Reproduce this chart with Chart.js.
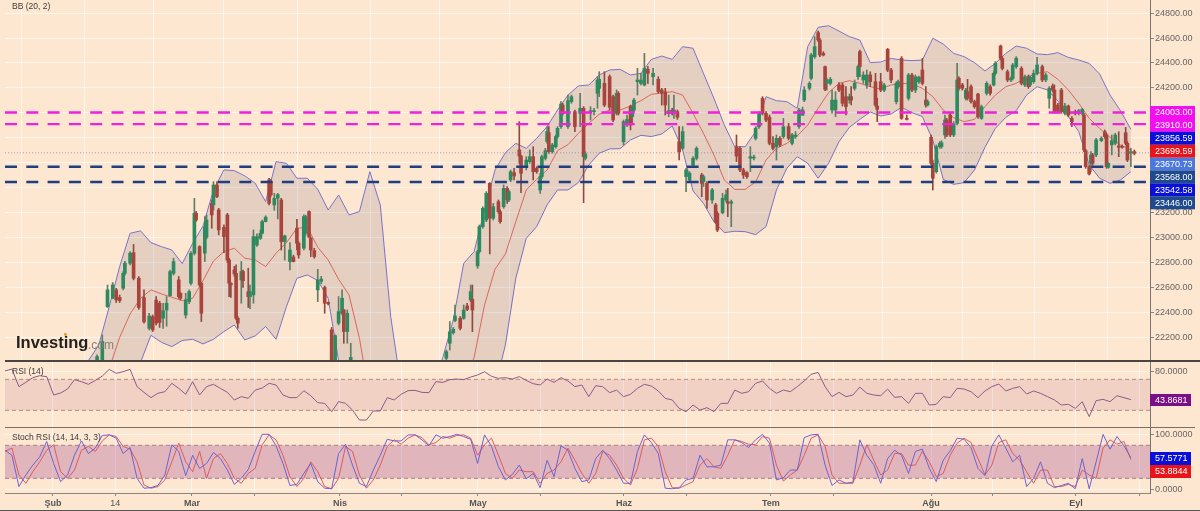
<!DOCTYPE html>
<html><head><meta charset="utf-8">
<script src="https://cdn.jsdelivr.net/npm/chart.js@4/dist/chart.umd.min.js"></script>
<style>
html,body{margin:0;padding:0;background:#FDE7D0;width:1200px;height:511px;overflow:hidden}
canvas{position:absolute;left:0;display:block}
.sep{position:absolute}
</style></head><body>
<canvas id="main" width="1200" height="360" style="top:0px"></canvas>
<canvas id="rsi" width="1200" height="66" style="top:361px"></canvas>
<canvas id="stoch" width="1200" height="83" style="top:428px"></canvas>
<div class="sep" style="left:5px;width:1195px;top:360px;height:1.5px;background:#4a4542"></div>
<div class="sep" style="left:5px;width:1190px;top:427px;height:1px;background:#7a706a"></div>
<div class="sep" style="left:5px;width:1145px;top:493px;height:1px;background:#8d8580"></div>
<div class="sep" style="left:0;width:1200px;top:510px;height:1px;background:#555"></div>
<script>
// x is the session number on the chart's time axis (about two sessions per day)
const monthTicks = [[13.8,'Şub'],[31.7,'14'],[53.8,'Mar'],[71.9,''],[96.4,'Nis'],[114,''],[136.1,'May'],[154.2,''],[178.1,'Haz'],[196,''],[220.4,'Tem'],[238.3,''],[266.5,'Ağu'],[284.3,''],[308.2,'Eyl'],[326.6,'']];
const priceTicks = [24800,24600,24400,24200,24000,23800,23600,23400,23200,23000,22800,22600,22400,22200];
const rsiTicks = [80];
const stochTicks = [100,0];
const magentaLevels = [24003,23910];
const navyLevels = [23568,23446];
const lastPriceLine = 23680;
const rsiLevels = [70,30];
const stochLevels = [80,20];
const tagTexts = ['24003.00','23910.00','23856.59','23699.59','23670.73','23568.00','23542.58','23446.00'];
const tagColors = ['#F20FF0','#F20FF0','#0A10D8','#E8141C','#4D78DC','#1F4A8C','#0A10D8','#1F4A8C'];
const rsiTagText = '43.8681';
const stochTagTexts = ['57.5771','53.8844'];

const sessions = [26.5,28,29.5,31,32,33,34,34.5,36,37,38.5,40,41.5,42.5,43.5,44.5,45.5,46.5,47.5,48.5,50,50.5,52,53,53.5,54.5,55,56,56.5,57.5,58,59.5,60,61,61.5,63,64,64.5,65,66,66.5,67,68,68.5,70,70.5,71.5,72.5,73.5,74,75,76,76.5,77.5,78.5,79.5,80.5,82,83,84,84.5,86,86.5,87.5,88,89,90,91,92,93,94,95,96,97,97.5,98.5,99.5,
127,128,129,129.5,131,132,133,134,134.5,
136,136.5,137.5,138.5,139.5,140.5,142,142.5,143.5,144.5,145,145.5,146.5,148,148.5,150,151,152,153,154,154.5,155.5,156,156.5,157.5,158.5,159,160,160.5,162,163,164,165.5,166.5,167,168.5,169.5,170.5,171,172.5,174,175,176,176.5,178,179,180,180.5,181,182,183,184,185,186.5,188,189,190,191,192,192.5,193.5,194,195,196,197,198,199,200.5,201,202,203.5,204.5,205,206.5,207.5,208,209,210.5,211.5,212.5,213.5,214.5,215.5,216,217,218,219,220,221,222,223,224,225.5,226.5,227.5,228.5,
229.5,230,231.5,232,233,234,234.5,235.5,236,236.5,237.5,238,239,240,241,242,243,243.5,244.5,245.5,246,247,248,249,250.5,251,252,253,254,255,256.5,257,258,259.5,260,261,262,263,264,265,265.5,266.5,267,268,269,269.5,270.5,271,272,273,274,274.5,275.5,276.5,277,278,279,280,281,282.5,283.5,284.5,285,286.5,287,288.5,289.5,290,291,292.5,293.5,294.5,295,296,297,298.5,299.5,300.5,301.5,302,303,304,305,306,307,308,309,310,310.5,311,312,312.5,313,314,315.5,316.5,317,317.5,318.5,319.5,320.5,321.5,322.5,323,324,325];
const opens = [22020,22020,22447,22514,22581,22520,22594,22714,22795,22880,22674,22520,22273,22367,22500,22474,22354,22420,22535,22714,22661,22554,22380,22487,22634,22875,23195,22928,22634,22875,23003,23275,23262,23422,23222,23082,23182,22821,22634,22741,22714,22354,22661,22728,22567,22527,22541,22941,22995,23035,23129,23463,23449,23262,23316,23302,22968,22808,22845,23075,22955,22915,23035,23209,22995,22896,22581,22650,22600,22480,22260,22000,22314,22394,22420,22247,22020,
22033,22153,22238,22335,22353,22353,22452,22500,22506,
22773,22888,23088,23141,23435,23155,23288,23208,23248,23395,23302,23462,23521,23703,23654,23569,23609,23649,23556,23382,23489,23636,23769,23842,23689,23729,23810,23890,24063,23890,24090,24010,23996,24037,23636,24010,24010,24157,24197,24237,24290,24130,23996,24157,23769,23903,24050,23970,24023,24250,24237,24224,24349,24290,24269,24184,24170,23996,24023,23996,24010,23769,23716,23489,23462,23582,23636,23502,23449,23435,23302,23262,23195,23200,23302,23288,23275,23729,23716,23542,23521,23636,23638,23796,23890,24117,23996,23965,23756,23729,23796,23810,23890,23756,23810,23890,
23980,24103,24197,24277,24451,24643,24584,24477,24371,24237,24237,24023,24023,24224,24224,24130,24103,24130,24197,24290,24491,24264,24224,24304,24250,24055,24250,24183,24509,24344,24090,24210,24437,23956,24117,24304,24183,24250,24344,24103,24063,23804,23596,23529,23729,23729,23823,23943,23983,23823,23916,24277,24224,24117,24170,24210,24090,24151,23956,24157,24210,24224,24317,24536,24437,24330,24264,24277,24371,24357,24224,24290,24224,24250,24317,24371,24264,24117,24216,24183,24063,24183,23997,24055,23956,24010,23997,23997,23983,23697,23569,23596,23663,23663,23777,23849,23823,23564,23743,23756,23735,23729,23841,23756,23676,23689];
const highs = [22060,22220,22620,22640,22594,22540,22728,22810,22888,22945,22688,22581,22394,22380,22527,22490,22474,22527,22740,22835,22688,22560,22554,22581,22888,23315,23210,22935,22640,23169,23182,23302,23449,23449,23235,23102,23195,22835,22640,22770,22781,22367,22808,22740,22755,22620,23062,23030,23062,23140,23175,23476,23465,23355,23355,23315,23020,22960,22860,23147,22968,23182,23180,23215,23003,22915,22746,22690,22612,22484,22280,22220,22527,22581,22425,22420,22153,
22099,22327,22280,22460,22367,22460,22473,22620,22620,
22901,23101,23248,23369,23441,23275,23302,23222,23422,23409,23382,23542,23556,23930,23662,23649,23703,23729,23569,23516,23662,23716,23890,23890,23756,23823,23890,24090,24077,24143,24143,24023,24157,24050,23689,24050,24037,24290,24330,24330,24304,24143,24184,24170,23943,23983,24063,24050,24117,24357,24317,24477,24371,24357,24290,24197,24197,24143,24037,24143,24023,23890,23890,23556,23529,23649,23729,23516,23502,23449,23395,23275,23208,23355,23382,23395,23302,23823,23729,23556,23529,23729,23662,23890,24010,24130,24010,23983,23810,23823,23810,23956,23916,23836,23850,24037,
24047,24210,24250,24477,24611,24656,24598,24491,24376,24277,24285,24183,24170,24242,24237,24210,24151,24210,24264,24384,24504,24330,24344,24330,24317,24117,24317,24237,24517,24357,24250,24264,24451,23983,24317,24317,24304,24296,24437,24210,24103,23823,23622,23743,23770,23777,23983,23956,23997,23930,24397,24290,24237,24197,24269,24224,24103,24157,24063,24250,24224,24330,24411,24544,24451,24344,24290,24397,24451,24371,24304,24304,24296,24344,24445,24384,24317,24210,24232,24224,24077,24197,24077,24063,23970,24023,24028,24037,23997,23708,23582,23689,23676,23796,23809,23863,23836,23601,23823,23836,23849,23743,23884,23770,23716,23702];
const lows = [22000,22010,22440,22510,22480,22480,22580,22700,22781,22661,22425,22314,22260,22247,22300,22280,22273,22290,22530,22700,22514,22500,22354,22470,22621,22861,23130,22610,22327,22808,22990,23075,23222,23320,23022,22880,22800,22527,22520,22690,22340,22273,22474,22600,22440,22430,22474,22930,22985,23030,23125,23262,23330,23220,23150,22900,22820,22741,22805,22901,22835,22901,23020,23003,22848,22835,22487,22630,22394,22460,21950,21990,22300,22380,22153,22153,21950,
22019,22099,22225,22327,22260,22345,22415,22487,22246,
22754,22874,23075,23128,22869,23141,23195,23115,23235,23275,23288,23449,23462,23596,23361,23542,23596,23462,23516,23355,23475,23622,23756,23676,23676,23716,23796,23876,23983,23876,24077,23850,23890,23280,23622,23943,23983,24037,24130,24050,24023,23930,23983,23983,23743,23890,23863,23916,24010,24143,24224,24216,24237,24224,24157,24063,23983,23970,23983,23956,23948,23622,23703,23369,23449,23569,23622,23328,23409,23235,23275,23115,23048,23190,23288,23168,23088,23609,23529,23475,23475,23529,23622,23783,23876,23983,23930,23743,23703,23622,23729,23796,23783,23743,23796,23876,
23997,24090,24183,24264,24437,24571,24451,24456,24178,24183,24224,23997,23970,24170,24055,23983,24077,24063,24183,24269,24290,24237,24197,24210,24050,23930,24170,24170,24330,24242,24071,24197,23948,23943,24103,24170,24162,24237,24224,24045,24055,23582,23382,23516,23716,23716,23796,23809,23809,23809,23903,24183,24183,24103,24103,24077,24037,23956,23948,24143,24143,24216,24304,24424,24344,24250,24250,24264,24357,24224,24210,24197,24210,24237,24304,24250,24250,24037,24170,23997,23997,23997,23983,23970,23890,23983,23983,23983,23689,23556,23502,23529,23582,23649,23770,23796,23556,23556,23663,23743,23649,23716,23743,23609,23569,23663];
const closes = [22046,22167,22581,22621,22501,22495,22714,22795,22875,22674,22440,22325,22372,22260,22314,22320,22415,22474,22728,22808,22527,22514,22501,22567,22875,23195,23142,22621,22394,23088,23142,23182,23422,23329,23062,23008,22821,22634,22621,22710,22354,22314,22728,22655,22527,22567,23008,23008,23035,23129,23164,23275,23342,23315,23345,22968,23014,22901,22808,22955,22861,23169,23169,23003,22901,22848,22661,22667,22474,22470,22000,22215,22407,22514,22247,22394,22040,
22086,22246,22265,22372,22273,22420,22425,22567,22420,
22888,23088,23235,23355,23155,23248,23208,23128,23395,23302,23369,23529,23494,23654,23516,23622,23649,23529,23529,23489,23649,23697,23850,23689,23743,23810,23876,24071,23996,24098,24130,23890,24037,23649,23671,24018,24018,24264,24269,24063,24045,23943,24157,23996,23930,23948,23903,24037,24103,24264,24264,24357,24317,24317,24170,24157,24063,24018,23996,24023,23965,23689,23850,23542,23516,23636,23716,23435,23489,23302,23382,23128,23061,23315,23342,23275,23288,23654,23542,23502,23489,23649,23644,23876,23996,23996,23943,23756,23716,23796,23743,23890,23796,23823,23823,24023,
24025,24183,24237,24464,24531,24584,24464,24464,24189,24264,24269,24103,24103,24183,24077,24050,24130,24103,24237,24371,24371,24304,24304,24250,24063,24028,24183,24224,24344,24264,24237,24250,23956,23948,24304,24183,24290,24285,24237,24063,24090,23596,23476,23729,23756,23761,23943,23823,23823,23911,24264,24197,24197,24183,24117,24090,24050,23970,24050,24237,24157,24317,24397,24437,24357,24264,24277,24384,24437,24237,24290,24210,24285,24317,24384,24264,24304,24197,24183,24010,24010,24010,24055,23983,23930,23997,24018,24028,23703,23569,23510,23663,23596,23783,23796,23809,23569,23596,23777,23823,23724,23724,23756,23622,23689,23676];

// Bollinger bands, read every third session from session 24
const bbUpper = [22014,22140,22447,22768,23035,23054,22960,22928,22901,22792,22955,23094,23382,23543,23537,23495,23436,23289,23609,23596,23476,23476,23388,23222,23342,23182,23209,23529,23262,22367,21800,21650,21700,21800,22040,22340,22794,22888,23222,23542,23681,23756,23716,23796,23890,24023,24143,24216,24224,24304,24344,24349,24304,24317,24429,24456,24429,24531,24518,24317,24117,23903,23729,23729,23850,24130,24098,24090,24037,24531,24686,24699,24656,24611,24584,24403,24408,24437,24424,24419,24424,24598,24552,24477,24451,24403,24336,24397,24477,24536,24518,24472,24467,24483,24445,24424,24397,24312,24143,24018,23868];
const bbMiddle = [21200,21500,21950,22201,22388,22514,22581,22549,22522,22495,22514,22656,22813,22888,22915,22835,22821,22768,22875,22960,23075,23083,22923,22821,22666,22541,22193,21700,21300,21000,20900,20850,20900,21000,21200,21500,21800,22040,22460,22746,22869,23128,23382,23467,23542,23697,23745,23836,23916,23989,24023,24023,24055,24098,24149,24159,24170,24143,23996,23836,23663,23462,23387,23387,23446,23622,23716,23756,23815,23903,24037,24162,24237,24258,24237,24210,24192,24224,24237,24232,24197,24130,24023,23962,23930,23948,24050,24143,24210,24237,24285,24317,24330,24269,24184,24077,23956,23876,23804,23743,23703];
const bbLower = [21300,21350,21400,21500,21700,22000,22217,22161,22126,22175,22185,22148,22185,22247,22300,22180,22212,22287,22185,22447,22674,22701,22656,22514,22014,21800,21600,21400,21200,21000,20900,20800,20700,20650,20700,20800,20900,21000,21200,21800,22140,22674,22994,23088,23262,23382,23382,23441,23582,23676,23711,23713,23783,23820,23810,23831,23895,23703,23374,23275,23128,23040,23051,23048,23024,23088,23382,23556,23649,23596,23476,23596,23769,23884,23948,24007,23975,23991,24045,24002,23970,23783,23467,23427,23441,23542,23724,23876,23964,24018,24143,24210,24184,24095,23970,23850,23582,23476,23435,23462,23529];

// oscillators, read every second session from session 0
const rsiValues = [80.8,83.3,60.6,66.1,72.2,74.7,73.5,49.8,52.4,57.5,69.6,67,63.6,68.7,74.3,82.9,77.8,79.9,82.9,60.6,53.2,46.4,52,54.1,64.9,58.4,50.7,67,49.8,60.6,63.6,58.4,53.2,43.4,47.7,45.5,56.2,58.8,64.9,62.7,49.8,46.4,46.4,55.4,48.9,39.9,39,28.3,41.2,39,30.4,17.5,17.5,29.2,29.2,46.4,43.4,
50.7,55.4,55.8,53.2,52.8,67,66.1,69.6,70.4,69.6,73,75.6,79.9,73.9,71.3,72.2,70.4,73.5,68.7,64.4,62.7,70.4,66.1,72.2,67.9,60.6,62.7,47.7,61.8,60.6,52.8,56.2,47.7,50.7,58.4,63.6,61.4,55,45.5,43.4,32.6,28.3,36.9,30.4,33.5,28.3,39,39,56.2,52,54.1,64.9,67.9,58.4,52,56.2,54.1,60.6,
67.9,76.5,79,60.6,47.7,53.2,47.7,49.8,60.1,52,49.8,48.9,57.5,46.8,47.7,39,52,52,36.9,37.8,47.7,46.4,58.4,57.5,54.1,46.4,55,60.6,64,55,58.4,60.6,51.1,55,52,47.7,43.4,36.9,37.8,32.6,41.2,21.9,42.5,44.2,41.2,48.9,46.4,43.87];
const stochK = [71,62,5,26,44,59,87,47,14,26,62,88,65,75,98,99,93,65,76,20,2,3,7,26,81,69,25,62,38,47,67,56,35,9,20,36,69,100,100,79,47,7,9,29,47,14,2,1,65,82,44,11,5,35,62,91,88,
88,99,99,90,79,99,93,96,100,96,91,47,99,78,41,17,27,44,19,29,3,53,23,79,71,38,14,17,56,71,56,35,11,11,69,99,85,65,2,1,3,17,20,62,41,41,44,90,90,85,76,90,100,84,17,21,35,35,
94,99,100,44,7,17,11,13,90,62,45,11,56,71,62,29,69,73,38,14,53,70,93,91,76,38,25,79,99,75,50,62,5,20,50,11,3,7,11,1,56,1,50,100,73,96,79,57.6];
const stochD = [69,75,26,11,32,50,71,81,32,20,35,71,78,69,88,99,96,78,73,50,8,2,5,17,50,84,50,32,69,20,56,65,47,20,11,29,38,81,99,90,62,23,5,20,50,32,5,1,20,78,69,26,2,17,44,78,90,
82,93,99,94,81,85,96,93,98,99,93,62,81,93,62,29,20,35,32,32,11,29,35,50,75,53,29,11,29,69,62,44,20,8,38,90,93,78,32,3,2,8,14,44,56,41,38,62,90,87,82,81,96,93,44,15,26,35,
62,93,99,78,26,11,11,11,44,81,53,26,35,65,65,44,44,69,50,23,29,62,84,93,85,56,26,44,85,90,65,53,32,11,35,35,5,5,9,5,35,26,20,75,90,82,87,53.9];

const BG_GRID='rgba(255,255,255,.62)', AXIS='#777', TICK_TEXT='#666';
const FONT='"Liberation Sans", Arial, sans-serif';
const X_MIN=0, X_MAX=329.5;
const pts=(vals,start,step)=>vals.map((v,i)=>({x:start+i*step,y:v}));
const hLine=v=>[{x:X_MIN,y:v},{x:X_MAX,y:v}];

function xScale(showLabels){
  return {type:'linear',min:X_MIN,max:X_MAX,offset:false,
    afterBuildTicks:s=>{s.ticks=monthTicks.map(t=>({value:t[0]}));},
    afterFit:s=>{s.height=showLabels?18:0;s.paddingLeft=0;s.paddingRight=0;},
    border:{display:false},
    grid:{color:BG_GRID,lineWidth:1,drawTicks:showLabels,tickLength:3,tickColor:'#888'},
    ticks:{display:showLabels,autoSkip:false,maxRotation:0,minRotation:0,padding:2,color:'#555',
      callback:v=>{const t=monthTicks.find(m=>m[0]===v);return t?t[1]:'';},
      font:c=>({family:FONT,size:9,weight:(c.tick&&c.tick.label==='14')?'normal':'bold'})}};
}
function yScale(min,max,ticks,dec){
  return {type:'linear',position:'right',min,max,
    afterBuildTicks:s=>{s.ticks=ticks.map(v=>({value:v}));},
    afterFit:s=>{s.width=50;s.paddingTop=0;s.paddingBottom=0;},
    border:{display:true,color:AXIS,width:1},
    grid:{color:BG_GRID,lineWidth:1,tickLength:4,tickColor:'#888'},
    ticks:{padding:1,color:TICK_TEXT,font:{family:FONT,size:9},callback:v=>Number(v).toFixed(dec)}};
}
function drawTag(ctx,text,color,top,h,right){
  ctx.fillStyle=color;ctx.fillRect(1150,top,right-1150,h);
  ctx.fillStyle='#fff';ctx.font='9px '+FONT;ctx.textAlign='left';ctx.textBaseline='middle';
  ctx.fillText(text,1155,top+h/2+.5);
}
function title(ctx,text,x,y){
  ctx.fillStyle='#3c3c3c';ctx.font='8.5px '+FONT;ctx.textAlign='left';ctx.textBaseline='middle';ctx.fillText(text,x,y);
}
const mainDecor={id:'mainDecor',afterDraw(c){
  const ctx=c.ctx;ctx.save();
  title(ctx,'BB (20, 2)',12,6.5);
  tagTexts.forEach((t,i)=>drawTag(ctx,t,tagColors[i],106+i*12.9,13,1195));
  ctx.textBaseline='alphabetic';ctx.textAlign='left';
  ctx.fillStyle='#24201e';ctx.font='bold 16.5px '+FONT;ctx.fillText('Investing',16,348);
  ctx.fillStyle='#8a8078';ctx.font='12px '+FONT;ctx.fillText('.com',88,349);
  ctx.fillStyle='#E8961E';ctx.beginPath();ctx.arc(65.5,334.5,1.4,0,7);ctx.fill();
  ctx.restore();}};
const rsiDecor={id:'rsiDecor',afterDraw(c){
  const ctx=c.ctx;ctx.save();
  title(ctx,'RSI (14)',12,11);
  drawTag(ctx,rsiTagText,'#7A0F86',33,12,1191);
  ctx.restore();}};
const stochDecor={id:'stochDecor',afterDraw(c){
  const ctx=c.ctx;ctx.save();
  title(ctx,'Stoch RSI (14, 14, 3, 3)',12,9.5);
  drawTag(ctx,stochTagTexts[0],'#0A10D8',24,13,1191);
  drawTag(ctx,stochTagTexts[1],'#E8141C',37,13,1191);
  ctx.restore();}};

const UP='#2E8A5E', DOWN='#A8443C', UPW='#5F7D62', DOWNW='#8F4A40';
const isUp=i=>closes[i]>=opens[i];
const ctxOpts=(extra)=>Object.assign({responsive:false,animation:false,devicePixelRatio:1,
  layout:{padding:{left:5,right:0,top:0,bottom:0},autoPadding:false},plugins:{legend:{display:false},tooltip:{enabled:false}},
  elements:{point:{radius:0},line:{tension:0}}},extra);

const bbEdge='#7A72C8';
new Chart(document.getElementById('main'),{type:'bar',plugins:[mainDecor],
 data:{datasets:[
  {type:'line',label:'BB upper',data:pts(bbUpper,24,3),borderColor:bbEdge,borderWidth:1,fill:{target:1},backgroundColor:'rgba(120,100,130,.18)',order:6},
  {type:'line',label:'BB lower',data:pts(bbLower,24,3),borderColor:bbEdge,borderWidth:1,fill:false,order:6},
  {type:'line',label:'BB middle',data:pts(bbMiddle,24,3),borderColor:'#D8665E',borderWidth:1,fill:false,order:5},
  {type:'bar',label:'wicks',grouped:false,barThickness:1,data:sessions.map((s,i)=>({x:s,y:[lows[i],highs[i]]})),backgroundColor:sessions.map((s,i)=>isUp(i)?UPW:DOWNW),order:4},
  {type:'bar',label:'bodies',grouped:false,barThickness:3,minBarLength:1,data:sessions.map((s,i)=>({x:s,y:[Math.min(opens[i],closes[i]),Math.max(opens[i],closes[i])]})),backgroundColor:sessions.map((s,i)=>isUp(i)?UP:DOWN),order:3},
  {type:'line',label:'last',data:hLine(lastPriceLine),borderColor:'rgba(120,110,180,.65)',borderWidth:1,borderDash:[1,2],order:2},
  ...magentaLevels.map(v=>({type:'line',data:hLine(v),borderColor:'#EE22DC',borderWidth:2.4,borderDash:[12,9.3],order:1})),
  ...navyLevels.map(v=>({type:'line',data:hLine(v),borderColor:'#1F3F80',borderWidth:2.4,borderDash:[12,9.3],order:1}))
 ]},
 options:ctxOpts({scales:{x:xScale(false),y:yScale(22019,24905,priceTicks,2)}})});

new Chart(document.getElementById('rsi'),{type:'line',plugins:[rsiDecor],
 data:{datasets:[
  {data:hLine(rsiLevels[0]),borderColor:'#B08C86',borderWidth:1,borderDash:[4,3],fill:{target:1},backgroundColor:'rgba(205,130,160,.22)',order:3},
  {data:hLine(rsiLevels[1]),borderColor:'#B08C86',borderWidth:1,borderDash:[4,3],fill:false,order:3},
  {data:pts(rsiValues,0,2),borderColor:'#8C5A88',borderWidth:1,fill:false,order:1}
 ]},
 options:ctxOpts({scales:{x:xScale(false),y:yScale(8.5,93.7,rsiTicks,4)}})});

new Chart(document.getElementById('stoch'),{type:'line',plugins:[stochDecor],
 data:{datasets:[
  {data:hLine(stochLevels[0]),borderColor:'#A8808A',borderWidth:1,borderDash:[4,3],fill:{target:1},backgroundColor:'rgba(170,90,150,.35)',order:3},
  {data:hLine(stochLevels[1]),borderColor:'#A8808A',borderWidth:1,borderDash:[4,3],fill:false,order:3},
  {data:pts(stochD,0,2),borderColor:'#DB5A62',borderWidth:1,fill:false,order:2},
  {data:pts(stochK,0,2),borderColor:'#6C62D2',borderWidth:1,fill:false,order:1}
 ]},
 options:ctxOpts({scales:{x:xScale(true),y:yScale(-6.7,111.5,stochTicks,4)}})});
</script>
</body></html>
